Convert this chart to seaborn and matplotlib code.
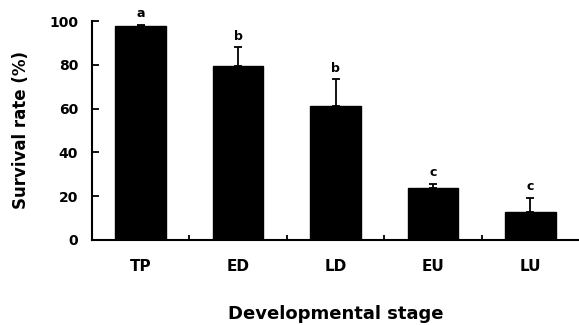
import matplotlib
matplotlib.use('Agg')
import matplotlib.pyplot as plt
import seaborn as sns
import pandas as pd
import numpy as np

# Data
stages = ['TP', 'ED', 'LD', 'EU', 'LU']
survival = [97.7, 79.5, 61.2, 23.7, 12.8]
error = [0.6, 8.6, 12.3, 1.9, 6.4]
letters = ['a', 'b', 'b', 'c', 'c']

df = pd.DataFrame({'stage': stages, 'survival': survival})

sns.set_style('ticks')
plt.rcParams['font.family'] = ['DejaVu Sans']
plt.rcParams['font.weight'] = 'bold'
plt.rcParams.update({'text.color': 'black', 'axes.labelcolor': 'black',
                     'xtick.color': 'black', 'ytick.color': 'black',
                     'axes.edgecolor': 'black'})

fig = plt.figure(figsize=(5.79, 3.25), dpi=100)
ax = fig.add_axes([0.159, 0.262, 0.841, 0.673])

sns.barplot(data=df, x='stage', y='survival', color='black', width=0.52,
            saturation=1, edgecolor='black', ax=ax)
ax.errorbar(range(len(stages)), survival, yerr=[np.zeros(len(error)), error],
            fmt='none', ecolor='black', elinewidth=1.3, capsize=2.6, capthick=1.3)

# significance letters above the error bars
for i, (v, e, l) in enumerate(zip(survival, error, letters)):
    ax.text(i, v + e + 2, l, ha='center', va='bottom', fontsize=9, fontweight='bold')

ax.set_xlim(-0.5, 4.5)
ax.set_ylim(0, 100)
ax.set_yticks([0, 20, 40, 60, 80, 100])
ax.tick_params(axis='y', direction='in', length=5, width=1.3, pad=10, labelsize=10)
ax.tick_params(axis='x', which='major', length=0, pad=14, labelsize=11)
ax.set_xticks(np.arange(0.5, 4.0, 1.0), minor=True)
ax.tick_params(axis='x', which='minor', direction='in', length=3.5, width=1.3)
for lab in ax.get_xticklabels() + ax.get_yticklabels():
    lab.set_fontweight('bold')

sns.despine(ax=ax, right=True, top=True)
ax.spines['left'].set_linewidth(1.5)
ax.spines['bottom'].set_linewidth(1.5)

ax.set_xlabel('Developmental stage', fontsize=13, fontweight='bold')
ax.set_ylabel('Survival rate (%)', fontsize=12, fontweight='bold')
ax.xaxis.set_label_coords(0.5, -0.297)
ax.yaxis.set_label_coords(-0.127, 0.5)

fig.savefig('out.png', dpi=100)
